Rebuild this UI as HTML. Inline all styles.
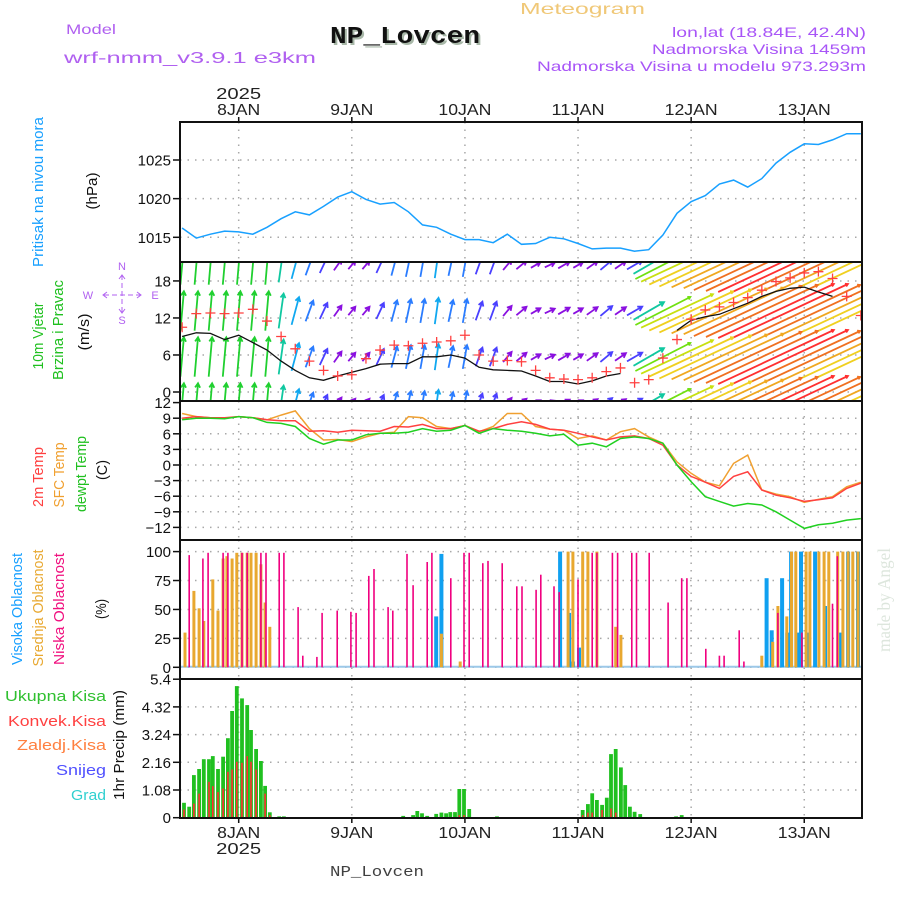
<!DOCTYPE html>
<html><head><meta charset="utf-8"><title>Meteogram NP_Lovcen</title>
<style>html,body{margin:0;padding:0;background:#fff;}svg{display:block;}</style></head>
<body>
<svg id="chart" xmlns="http://www.w3.org/2000/svg" width="900" height="900" viewBox="0 0 900 900" font-family="Liberation Sans, sans-serif">
<defs>
<clipPath id="clipP1"><rect x="180" y="122" width="682" height="140"/></clipPath>
<clipPath id="clipP2"><rect x="180" y="262" width="682" height="139"/></clipPath>
<clipPath id="clipP3"><rect x="180" y="401" width="682" height="139"/></clipPath>
<clipPath id="clipP4"><rect x="180" y="540" width="682" height="139"/></clipPath>
<clipPath id="clipP5"><rect x="180" y="679" width="682" height="139"/></clipPath>
</defs>
<rect x="0" y="0" width="900" height="900" fill="#fff"/>
<!-- header -->
<text x="66" y="34" fill="#b060f0" font-size="14" textLength="50" lengthAdjust="spacingAndGlyphs">Model</text>
<text x="64" y="63" fill="#b060f0" font-size="16" textLength="252" lengthAdjust="spacingAndGlyphs">wrf-nmm_v3.9.1 e3km</text>
<text x="332" y="45" fill="#a8b8a8" font-family="Liberation Mono, monospace" font-weight="bold" font-size="24" textLength="150" lengthAdjust="spacingAndGlyphs">NP_Lovcen</text>
<text x="330" y="43" fill="#111" font-family="Liberation Mono, monospace" font-weight="bold" font-size="24" textLength="150" lengthAdjust="spacingAndGlyphs">NP_Lovcen</text>
<text x="520" y="14" fill="#f0c878" font-size="16" textLength="125" lengthAdjust="spacingAndGlyphs">Meteogram</text>
<text x="672" y="37" fill="#a855f7" font-size="14" textLength="194" lengthAdjust="spacingAndGlyphs">lon,lat (18.84E, 42.4N)</text>
<text x="652" y="54" fill="#a855f7" font-size="14" textLength="214" lengthAdjust="spacingAndGlyphs">Nadmorska Visina 1459m</text>
<text x="537" y="71" fill="#a855f7" font-size="14" textLength="329" lengthAdjust="spacingAndGlyphs">Nadmorska Visina u modelu 973.293m</text>
<text x="0" y="0" transform="translate(890,652) rotate(-90)" fill="#dde6dd" font-family="Liberation Serif, serif" font-size="18" textLength="104" lengthAdjust="spacingAndGlyphs">made by Angel</text>
<text x="66" y="876" fill="#404040" font-family="Liberation Mono, monospace" font-size="15" textLength="94" lengthAdjust="spacingAndGlyphs" transform="translate(264,0)">NP_Lovcen</text>

<!-- left labels -->
<g font-size="15">
<text transform="translate(43,192) rotate(-90)" text-anchor="middle" fill="#18a0ff" textLength="150" lengthAdjust="spacingAndGlyphs">Pritisak na nivou mora</text>
<text transform="translate(97,191) rotate(-90)" text-anchor="middle" fill="#111" textLength="37" lengthAdjust="spacingAndGlyphs">(hPa)</text>
<text transform="translate(43,336) rotate(-90)" text-anchor="middle" fill="#20c020" textLength="67" lengthAdjust="spacingAndGlyphs">10m Vjetar</text>
<text transform="translate(63,330) rotate(-90)" text-anchor="middle" fill="#20c020" textLength="100" lengthAdjust="spacingAndGlyphs">Brzina i Pravac</text>
<text transform="translate(89,332) rotate(-90)" text-anchor="middle" fill="#111" textLength="37" lengthAdjust="spacingAndGlyphs">(m/s)</text>
<text transform="translate(43,477) rotate(-90)" text-anchor="middle" fill="#ff4040" textLength="60" lengthAdjust="spacingAndGlyphs">2m Temp</text>
<text transform="translate(64,475) rotate(-90)" text-anchor="middle" fill="#f0a030" textLength="65" lengthAdjust="spacingAndGlyphs">SFC Temp</text>
<text transform="translate(86,474) rotate(-90)" text-anchor="middle" fill="#20c020" textLength="76" lengthAdjust="spacingAndGlyphs">dewpt Temp</text>
<text transform="translate(107,470) rotate(-90)" text-anchor="middle" fill="#111" textLength="20" lengthAdjust="spacingAndGlyphs">(C)</text>
<text transform="translate(22,609) rotate(-90)" text-anchor="middle" fill="#18a0ff" textLength="112" lengthAdjust="spacingAndGlyphs">Visoka Oblacnost</text>
<text transform="translate(43,608) rotate(-90)" text-anchor="middle" fill="#e8a830" textLength="117" lengthAdjust="spacingAndGlyphs">Srednja Oblacnost</text>
<text transform="translate(64,609) rotate(-90)" text-anchor="middle" fill="#f0107f" textLength="112" lengthAdjust="spacingAndGlyphs">Niska Oblacnost</text>
<text transform="translate(106,609) rotate(-90)" text-anchor="middle" fill="#111" textLength="20" lengthAdjust="spacingAndGlyphs">(%)</text>
<text x="106" y="701" text-anchor="end" fill="#30c030" textLength="101" lengthAdjust="spacingAndGlyphs">Ukupna Kisa</text>
<text x="106" y="726" text-anchor="end" fill="#ff4040" textLength="98" lengthAdjust="spacingAndGlyphs">Konvek.Kisa</text>
<text x="106" y="750" text-anchor="end" fill="#ff8040" textLength="89" lengthAdjust="spacingAndGlyphs">Zaledj.Kisa</text>
<text x="106" y="775" text-anchor="end" fill="#5050ff" textLength="50" lengthAdjust="spacingAndGlyphs">Snijeg</text>
<text x="106" y="800" text-anchor="end" fill="#30d0d0" textLength="35" lengthAdjust="spacingAndGlyphs">Grad</text>
<text transform="translate(124,745) rotate(-90)" text-anchor="middle" fill="#111" textLength="110" lengthAdjust="spacingAndGlyphs">1hr Precip (mm)</text>
</g>
<!-- compass -->
<g fill="#b060f0" stroke="#b060f0" font-size="11">
<text x="122" y="270" text-anchor="middle" stroke="none">N</text>
<text x="122" y="324" text-anchor="middle" stroke="none">S</text>
<text x="88" y="299" text-anchor="middle" stroke="none">W</text>
<text x="155" y="299" text-anchor="middle" stroke="none">E</text>
<line x1="104" y1="295" x2="140" y2="295" stroke-width="1" stroke-dasharray="5,3"/>
<line x1="122" y1="275" x2="122" y2="313" stroke-width="1" stroke-dasharray="5,3"/>
<polyline points="107,292 103,295 107,298" fill="none" stroke-width="1"/>
<polyline points="137,292 141,295 137,298" fill="none" stroke-width="1"/>
<polyline points="119,279 122,275 125,279" fill="none" stroke-width="1"/>
<polyline points="119,309 122,313 125,309" fill="none" stroke-width="1"/>
</g>
<g id="plot"></g>
</svg>
<script>
// ---- time axis ----
const dayLabels = ["8JAN", "9JAN", "10JAN", "11JAN", "12JAN", "13JAN"];
const dayHours = [0, 24, 48, 72, 96, 120];
const hourStart = -12, hourStep = 3;
// ---- pressure (hPa), 3-hourly from 7JAN 12Z ----
const pressure = [1016.2,1014.9,1015.4,1015.8,1015.7,1015.4,1016.3,1017.4,1018.3,1017.9,1019.0,1020.2,1020.9,1019.9,1019.3,1019.5,1018.3,1016.6,1016.3,1015.4,1014.7,1014.7,1014.3,1015.4,1014.1,1014.2,1015.0,1014.8,1014.2,1013.5,1013.6,1013.6,1013.2,1013.4,1015.3,1018.1,1019.6,1020.4,1021.9,1022.4,1021.5,1022.6,1024.6,1026.0,1027.1,1027.0,1027.6,1028.4,1028.4];
const pressureTicks = [1015, 1020, 1025];
// ---- wind ----
const windSpeed = [9.0,9.6,9.5,8.5,9.2,8.0,6.8,5.0,3.5,2.3,1.9,2.6,3.2,3.8,4.5,4.6,4.6,5.7,5.7,6.0,5.5,4.0,3.6,3.5,3.4,2.6,1.7,1.7,1.3,1.8,2.6,3.0,null,null,null,10.0,11.6,12.2,12.6,13.5,14.4,15.5,16.3,16.8,17.0,16.2,15.5,null,null];
const windGust = [10.5,12.7,12.8,12.7,12.8,13.4,11.5,9.0,7.0,5.0,3.5,2.6,2.8,5.4,6.8,7.6,7.5,7.9,8.1,8.3,9.2,6.0,5.0,5.1,4.9,3.5,2.3,2.1,2.0,2.3,3.3,3.9,1.5,2.0,5.5,8.5,11.8,13.3,13.8,14.5,15.3,16.5,17.9,18.5,19.3,19.5,18.4,15.5,12.4];
const arrowSpeed = [9,9,9,9,9,9,9,8,6.5,5,4,3,2.5,2.5,4,5,5.5,5.5,6,5,5.5,4.5,4.5,3,3,2.5,2.5,3,2.5,3,3.5,3,4,8,14,18,21,23,24,25,27,28,29,29,28,27,25,23,22];
const arrowDir = [5,5,5,5,5,5,5,8,15,20,25,35,40,40,25,15,12,10,8,12,10,20,20,40,50,60,65,60,60,55,50,55,60,60,63,65,65,65,65,65,65,65,65,65,65,65,65,65,65];
const windTicks = [0, 6, 12, 18];
// ---- temperature (C) ----
const temp2m = [9.0,9.3,9.1,9.1,9.3,9.1,8.7,8.5,8.5,6.5,6.6,6.3,6.7,6.6,6.5,7.4,7.3,7.8,7.0,7.0,7.6,6.5,7.0,7.8,8.3,7.8,6.9,6.7,6.1,5.4,4.8,5.4,5.6,5.1,3.8,0.0,-2.2,-3.3,-4.5,-2.2,-1.3,-4.8,-5.8,-6.3,-7.0,-6.7,-6.3,-4.5,-3.5];
const tempSfc = [9.9,9.3,9.1,9.0,9.3,9.1,8.7,9.6,10.4,7.0,4.8,4.9,4.5,5.4,6.1,6.3,9.3,9.1,7.4,7.0,7.6,6.4,7.4,9.9,9.9,7.4,6.9,6.7,5.1,5.6,4.8,6.4,7.0,5.4,4.2,0.6,-1.6,-3.3,-4.0,0.3,1.9,-4.8,-5.6,-6.1,-7.2,-6.6,-6.1,-4.2,-3.3];
const tempDew = [8.7,9.0,9.0,8.9,9.3,9.1,8.2,8.0,7.4,5.1,4.0,4.8,4.8,5.8,6.1,6.1,6.3,7.0,6.5,6.7,7.6,6.1,7.0,6.7,6.5,6.1,5.6,5.9,3.8,4.2,3.5,5.1,5.4,5.1,4.2,0.0,-3.2,-6.1,-7.0,-7.9,-7.4,-7.7,-9.0,-10.6,-12.2,-11.5,-11.2,-10.6,-10.3];
const tempTicks = [-12,-9,-6,-3,0,3,6,9,12];
// ---- cloud cover (%) ----
const cloudLowHours = [-10.5,-7.6,-6.5,-3.3,-2.3,0.7,1.8,4.7,5.8,8.6,9.6,12.6,13.6,16.6,17.7,20.9,23.8,24.9,27.6,28.7,31.7,32.7,35.7,37,40,41,45,47.8,48.9,51.8,52.9,55.9,59,60.1,63.1,64.1,66.9,68,72,75,76,79.3,80.4,83.4,84.4,87.1,91.1,94,95.1,99.1,102,103,106.2,107.2,114.4,119.5,126,127];
const cloudLow = [97,94,99,99,99,99,99,99,99,99,99,52,10,9,47,49,48,47,79,85,52,49,98,71,91,99,77,99,99,90,92,90,70,70,67,80,70,65,76,99,99,99,99,99,99,99,56,77,77,16,10,10,32,5,47,30,55,96];
const cloudMidHours = [-11.4,-9.5,-8.4,-7.4,-5.5,-4.4,-3.3,-2.5,-1.4,-0.4,0.7,1.8,2.6,3.7,4.7,5.6,6.6,43,47,69.9,70.9,73,74.1,76,80,81.1,111,113.3,114.4,116.3,117.3,118.2,120.4,121.2,123.1,124.2,125.2,127.1,128.2,129.3,130.3,131.4];
const cloudMid = [30,66,51,40,76,49,94,96,94,99,99,99,99,99,89,56,35,29,5,100,100,100,100,100,35,28,10,22,53,44,100,100,100,100,100,100,100,100,100,100,100,100];
const cloudHighHours = [41.9,43,68.2,70.1,70.9,72.2,112,113.1,115.3,116.4,117.2,118.5,119.3,120.6,122.3,124.4,127.6,129.3,131.4];
const cloudHigh = [44,98,100,47,5,17,77,32,77,30,100,30,100,30,100,53,30,100,100];
const cloudTicks = [0,25,50,75,100];
// ---- precipitation (mm/h) ----
const precipHours = [-11.6,-10.5,-9.5,-8.4,-7.4,-6.3,-5.5,-4.4,-3.3,-2.3,-1.4,-0.4,0.7,1.8,2.6,3.7,4.7,5.6,6.6,8.6,9.6,34.9,37,37.9,38.9,40,41.9,43,44,44.9,45.9,46.8,47.8,48.9,54.8,73,74.1,75,76,77.1,78.1,79,80,81.1,82,83,84,85.2,92.8,94];
const precipTotal = [0.58,0.43,1.66,1.9,2.28,2.28,2.4,1.9,2.38,3.1,4.16,5.13,4.65,4.39,3.42,2.68,2.21,1.24,0.21,0.05,0.05,0.07,0.1,0.26,0.17,0.07,0.15,0.2,0.17,0.22,0.22,1.12,1.12,0.34,0.05,0.3,0.53,0.95,0.69,0.5,0.78,2.48,2.68,1.96,1.27,0.43,0.23,0.14,0.05,0.1];
const precipConv = [0.32,0,0.55,0.94,0,1.4,1.23,1.0,1.14,1.79,1.88,2.18,2.14,2.4,2.18,1.88,0,0.94,0.1,0,0,0,0,0,0,0,0,0,0,0,0,0.1,0.1,0,0,0.1,0.2,0.2,0,0.3,0,0.36,0.2,0,0,0,0,0,0,0];
const precipTicks = [0,1.08,2.16,3.24,4.32,5.4];

// ---- axis functions ----
const X0 = 238.7, PXH = 4.713, XL = 180, XR = 862;
const xH = h => X0 + h * PXH;
const yP = p => 237.3 - (p - 1015) * 7.73;
const yW = v => 392 - v * 6.17;
const yT = t => 465 - t * 5.2;
const yC = c => 667.3 - c * 1.157;
const yR = r => 817.7 - r * 25.65;
const hourAt = i => hourStart + i * hourStep;

const NS = "http://www.w3.org/2000/svg";
const plot = document.getElementById("plot");
function mk(tag, attrs, parent) {
  const el = document.createElementNS(NS, tag);
  for (const k in attrs) el.setAttribute(k, attrs[k]);
  (parent || plot).appendChild(el);
  return el;
}
function group(clip) {
  const g = mk("g", clip ? {"clip-path": "url(#" + clip + ")"} : {});
  return g;
}
const panels = [
  {top:122, bot:262, ticks:pressureTicks, fy:yP, fmt:v=>String(v), name:"pressure"},
  {top:262, bot:401, ticks:windTicks, fy:yW, fmt:v=>String(v), name:"wind"},
  {top:401, bot:540, ticks:tempTicks, fy:yT, fmt:v=>(v<0?"\u2212"+(-v):String(v)), name:"temperature"},
  {top:540, bot:679, ticks:cloudTicks, fy:yC, fmt:v=>String(v), name:"cloud"},
  {top:679, bot:818, ticks:precipTicks, fy:yR, fmt:v=>String(v), name:"precip"}
];
// grids and ticks
panels.forEach(p => {
  const g = group();
  
  
  dayHours.forEach(h => {
    const l = mk("line", {x1:xH(h), x2:xH(h), y1:p.top, y2:p.bot, stroke:"#a8a8a8", "stroke-width":1.5, "stroke-dasharray":"1.5,6"}, g);
    
    
  });
  p.ticks.forEach(v => {
    const y = p.fy(v);
    if (y > p.top + 3 && y < p.bot - 3) {
      const l = mk("line", {x1:XL, x2:XR, y1:y, y2:y, stroke:"#a8a8a8", "stroke-width":1.5, "stroke-dasharray":"1.5,6"}, g);
      
      
    }
    const t = mk("line", {x1:173, x2:180, y1:y, y2:y, stroke:"#111", "stroke-width":1.5}, g);
    
    
    const lab = mk("text", {x:171, y:y + 5.5, "text-anchor":"end", "font-size":15, fill:"#111"}, g);
    
    
    lab.textContent = p.fmt(v);
  });
});

// pressure line
(function(){
  const g = group("clipP1");
  const pts = pressure.map((v,i) => xH(hourAt(i)).toFixed(1) + "," + yP(v).toFixed(1)).join(" ");
  const pl = mk("polyline", {points:pts, fill:"none", stroke:"#18a0ff", "stroke-width":1.5}, g);
  
  
})();

// wind arrows
function speedColor(s) {
  if (s < 3.2) return "#8a10e0";
  if (s < 4.6) return "#4a40ff";
  if (s < 5.8) return "#2a7cff";
  if (s < 7.2) return "#10a8f0";
  if (s < 8.5) return "#10c8a0";
  if (s < 11) return "#20d030";
  if (s < 16) return "#70e010";
  if (s < 20) return "#c8e010";
  if (s < 24) return "#f0d020";
  if (s < 26.5) return "#f0a820";
  if (s < 28.5) return "#f07020";
  return "#ff3030";
}
(function(){
  const g = group("clipP2");
  
  
  const rows = [265, 311, 357, 403];
  const SCALE = 4.4;
  rows.forEach(rc => {
    arrowSpeed.forEach((s, i) => {
      const L = s * SCALE, a = arrowDir[i] * Math.PI / 180;
      const dx = Math.sin(a) * L, dy = -Math.cos(a) * L;
      const cx = xH(hourAt(i));
      const x1 = cx - dx/2, y1 = rc - dy/2, x2 = cx + dx/2, y2 = rc + dy/2;
      const col = speedColor(s);
      const ux = dx / L, uy = dy / L, hs = s > 12 ? 3 : 5;
      const hx1 = x2 - hs*(ux*0.87 - uy*0.5), hy1 = y2 - hs*(uy*0.87 + ux*0.5);
      const hx2 = x2 - hs*(ux*0.87 + uy*0.5), hy2 = y2 - hs*(uy*0.87 - ux*0.5);
      const p = mk("path", {d:"M"+x1.toFixed(1)+","+y1.toFixed(1)+"L"+x2.toFixed(1)+","+y2.toFixed(1)+"M"+hx1.toFixed(1)+","+hy1.toFixed(1)+"L"+x2.toFixed(1)+","+y2.toFixed(1)+"L"+hx2.toFixed(1)+","+hy2.toFixed(1), fill:"none", stroke:col, "stroke-width":1.8}, g);
      
      
    });
  });
  // wind speed line (with gaps)
  let d = "", pen = false;
  windSpeed.forEach((v, i) => {
    if (v === null) { pen = false; return; }
    d += (pen ? "L" : "M") + xH(hourAt(i)).toFixed(1) + "," + yW(v).toFixed(1);
    pen = true;
  });
  const wl = mk("path", {d:d, fill:"none", stroke:"#111", "stroke-width":1.3}, g);
  
  
  windGust.forEach((v, i) => {
    const x = xH(hourAt(i)), y = yW(v);
    const m = mk("path", {d:"M"+(x-5)+","+y+"h10M"+x+","+(y-5)+"v10", stroke:"#ff4040", "stroke-width":1.3, fill:"none"}, g);
    
    
  });
})();

// temperature lines
(function(){
  const g = group("clipP3");
  [[tempSfc,"#f0a030","sfc-temp-line"],[temp2m,"#ff4040","temp-2m-line"],[tempDew,"#20d020","dewpoint-line"]].forEach(sr => {
    const pts = sr[0].map((v,i) => xH(hourAt(i)).toFixed(1) + "," + yT(v).toFixed(1)).join(" ");
    const pl = mk("polyline", {points:pts, fill:"none", stroke:sr[1], "stroke-width":1.5}, g);
    
    
  });
})();

// cloud bars
(function(){
  const g = group("clipP4");
  const base = mk("line", {x1:XL, x2:XR, y1:yC(0)-0.5, y2:yC(0)-0.5, stroke:"#9cc8e8", "stroke-width":2}, g);
  
  
  [[cloudHighHours, cloudHigh, "#10a0f0", 4, "cloud-high-bar"],
   [cloudMidHours, cloudMid, "#e8a830", 3, "cloud-mid-bar"],
   [cloudLowHours, cloudLow, "#f0007f", 1.6, "cloud-low-bar"]].forEach(sr => {
    sr[0].forEach((h, i) => {
      const x = xH(h), y = yC(sr[1][i]);
      const r = mk("rect", {x:(x - sr[3]/2).toFixed(1), y:y.toFixed(1), width:sr[3], height:(yC(0)-y).toFixed(1), fill:sr[2]}, g);
      
      
    });
  });
})();

// precipitation bars
(function(){
  const g = group("clipP5");
  precipHours.forEach((h, i) => {
    const x = xH(h);
    const y = yR(precipTotal[i]);
    const r = mk("rect", {x:(x-1.9).toFixed(1), y:y.toFixed(1), width:3.8, height:(yR(0)-y).toFixed(1), fill:"#20c020"}, g);
    
    
    if (precipConv[i] > 0) {
      const yc = yR(precipConv[i]);
      const c = mk("rect", {x:(x-0.8).toFixed(1), y:yc.toFixed(1), width:1.6, height:(yR(0)-yc).toFixed(1), fill:"#ff3030"}, g);
      
      
    }
  });
})();

// frames and separators
(function(){
  const g = group();
  
  
  const fr = mk("rect", {x:XL, y:122, width:XR-XL, height:818-122, fill:"none", stroke:"#111", "stroke-width":2}, g);
  
  
  [262, 401, 540, 679].forEach(y => {
    const l = mk("line", {x1:XL, x2:XR, y1:y, y2:y, stroke:"#111", "stroke-width":2}, g);
    
    
  });
  dayHours.forEach((h, i) => {
    const x = xH(h);
    const t1 = mk("line", {x1:x, x2:x, y1:117, y2:122, stroke:"#111", "stroke-width":1.5}, g);
    
    
    const t2 = mk("line", {x1:x, x2:x, y1:818, y2:823, stroke:"#111", "stroke-width":1.5}, g);
    
    
    const w = dayLabels[i].length === 4 ? 43 : 53;
    const a = mk("text", {x:x, y:115, "text-anchor":"middle", "font-size":16, fill:"#222", textLength:w, lengthAdjust:"spacingAndGlyphs"}, g);
    
    
    a.textContent = dayLabels[i];
    const b = mk("text", {x:x, y:838, "text-anchor":"middle", "font-size":16, fill:"#222", textLength:w, lengthAdjust:"spacingAndGlyphs"}, g);
    
    
    b.textContent = dayLabels[i];
  });
  const y1 = mk("text", {x:xH(0), y:99, "text-anchor":"middle", "font-size":16, fill:"#222", textLength:45, lengthAdjust:"spacingAndGlyphs"}, g);
  
  
  y1.textContent = "2025";
  const y2 = mk("text", {x:xH(0), y:854, "text-anchor":"middle", "font-size":16, fill:"#222", textLength:45, lengthAdjust:"spacingAndGlyphs"}, g);
  
  
  y2.textContent = "2025";
})();
</script>
</body></html>
